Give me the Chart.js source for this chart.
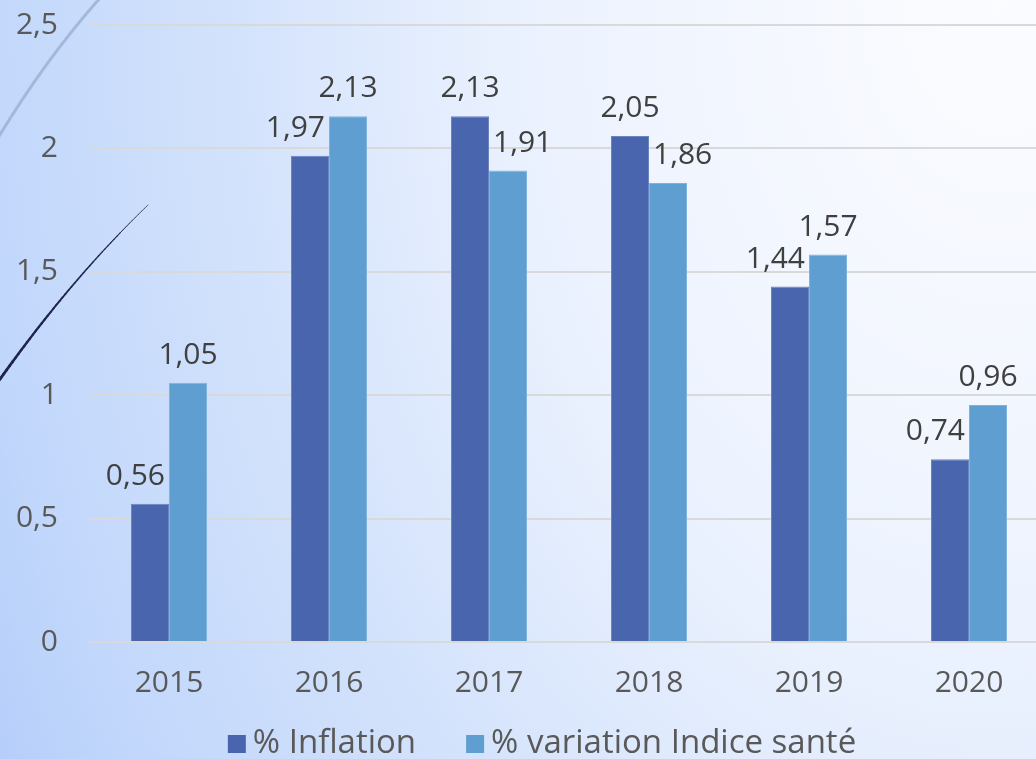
<!DOCTYPE html>
<html>
<head>
<meta charset="utf-8">
<script src="https://cdn.jsdelivr.net/npm/chart.js@4"></script>
<style>
    html, body {
        margin: 0;
        padding: 0;
        width: 1036px;
        height: 759px;
        overflow: hidden;
    }
    body {
        background: radial-gradient(ellipse 1150px 1610px at 1000px 0px, #fbfcff 0%, #f2f6fe 26%, #eaf1fe 43%, #d4e3fc 66%, #c0d6fb 90%, #b4cdfa 100%);
    }
    #chart {
        position: absolute;
        left: 0;
        top: 0;
    }
</style>
</head>
<body>
<canvas id="chart" width="1050" height="759"></canvas>
<script>
// valeurs
const years = ['2015', '2016', '2017', '2018', '2019', '2020'];
const inflation = [0.56, 1.97, 2.13, 2.05, 1.44, 0.74];
const santeVariation = [1.05, 2.13, 1.91, 1.86, 1.57, 0.96];
const yTicks = [0, 0.5, 1, 1.5, 2, 2.5];

const textColor = '#595959';
const fontFamily = '"Open Sans", "DejaVu Sans", sans-serif';

const fmt = v => String(v).replace('.', ',');

// courbes décoratives en fond
const decoPlugin = {
    id: 'deco',
    beforeDraw(chart) {
        const ctx = chart.ctx;
        ctx.save();
        ctx.strokeStyle = 'rgba(160, 180, 215, 0.9)';
        ctx.lineWidth = 3;
        ctx.beginPath();
        ctx.moveTo(100, -2);
        ctx.quadraticCurveTo(45, 60, -2, 138);
        ctx.stroke();

        ctx.strokeStyle = '#1f2352';
        ctx.lineCap = 'round';
        const pts = [];
        for (let t = 0; t <= 1.0001; t += 0.02) {
            const x = (1 - t) * (1 - t) * 148 + 2 * (1 - t) * t * 70 + t * t * -2;
            const y = (1 - t) * (1 - t) * 205 + 2 * (1 - t) * t * 280 + t * t * 382;
            pts.push([x, y, 0.6 + t * 2.2]);
        }
        for (let i = 1; i < pts.length; i++) {
            ctx.lineWidth = pts[i][2];
            ctx.beginPath();
            ctx.moveTo(pts[i - 1][0], pts[i - 1][1]);
            ctx.lineTo(pts[i][0], pts[i][1]);
            ctx.stroke();
        }
        ctx.restore();
    }
};

// étiquettes de valeurs au-dessus des barres
const labelPlugin = {
    id: 'valueLabels',
    afterDatasetsDraw(chart) {
        const ctx = chart.ctx;
        ctx.save();
        ctx.font = '30px ' + fontFamily;
        ctx.fillStyle = '#404040';
        ctx.textAlign = 'center';
        ctx.textBaseline = 'alphabetic';
        const m0 = chart.getDatasetMeta(0).data;
        const m1 = chart.getDatasetMeta(1).data;
        years.forEach((y, i) => {
            const a = m0[i], b = m1[i];
            const pairs = [[a, inflation[i], b, -1], [b, santeVariation[i], a, 1]];
            pairs.forEach(([bar, val, other, dir]) => {
                const txt = fmt(val);
                const w = ctx.measureText(txt).width;
                const base = bar.y - 19;
                let cx = bar.x;
                if (other.y < base) {
                    const half = other.width / 2;
                    if (dir < 0) {
                        const limit = other.x - half - 4;
                        if (cx + w / 2 > limit) cx = limit - w / 2;
                    } else {
                        const limit = other.x + half + 4;
                        if (cx - w / 2 < limit) cx = limit + w / 2;
                    }
                }
                ctx.fillText(txt, cx, base);
            });
        });
        ctx.restore();
    }
};

// légende dessinée à la main, centrée en bas
const legendPlugin = {
    id: 'bottomLegend',
    afterDraw(chart) {
        const ctx = chart.ctx;
        ctx.save();
        ctx.font = '33px ' + fontFamily;
        ctx.textBaseline = 'alphabetic';
        ctx.textAlign = 'left';
        const items = chart.data.datasets.map(ds => ({
            text: ds.label,
            color: ds.backgroundColor,
            w: ctx.measureText(ds.label).width
        }));
        const box = 18, gapText = 7, gapItem = 50;
        const total = items.reduce((s, it) => s + box + gapText + it.w, 0) + gapItem * (items.length - 1);
        let x = 542 - total / 2;
        items.forEach(it => {
            ctx.fillStyle = it.color;
            ctx.fillRect(x, 735, box, box);
            x += box + gapText;
            ctx.fillStyle = textColor;
            ctx.fillText(it.text, x, 753);
            x += it.w + gapItem;
        });
        ctx.restore();
    }
};

const ctx = document.getElementById('chart').getContext('2d');
const chart = new Chart(ctx, {
    type: 'bar',
    data: {
        labels: years,
        datasets: [
            {
                label: '% Inflation',
                data: inflation,
                backgroundColor: '#4865ad',
                borderColor: '#6b84c0',
                borderWidth: 1,
                categoryPercentage: 0.475,
                barPercentage: 1
            },
            {
                label: '% variation Indice santé',
                data: santeVariation,
                backgroundColor: '#5f9ed1',
                borderColor: '#80b3dc',
                borderWidth: 1,
                categoryPercentage: 0.475,
                barPercentage: 1
            }
        ]
    },
    options: {
        responsive: false,
        animation: false,
        layout: {
            padding: { top: 25, right: 1, left: 0, bottom: 43 }
        },
        plugins: {
            tooltip: { enabled: false },
            legend: { display: false }
        },
        scales: {
            x: {
                grid: { display: false },
                border: { display: false },
                ticks: {
                    color: textColor,
                    font: { family: fontFamily, size: 30 },
                    padding: 15
                }
            },
            y: {
                min: 0,
                max: 2.5,
                afterFit(scale) {
                    scale.width = 89;
                    scale.paddingTop = 0;
                    scale.paddingBottom = 0;
                },
                afterBuildTicks(scale) { scale.ticks = yTicks.map(v => ({ value: v })); },
                grid: { color: '#d9d9d9', lineWidth: 2, drawTicks: false },
                border: { display: false },
                ticks: {
                    color: textColor,
                    font: { family: fontFamily, size: 30 },
                    padding: 31,
                    callback: v => fmt(v)
                }
            }
        }
    },
    plugins: [decoPlugin, labelPlugin, legendPlugin]
});
</script>
</body>
</html>
